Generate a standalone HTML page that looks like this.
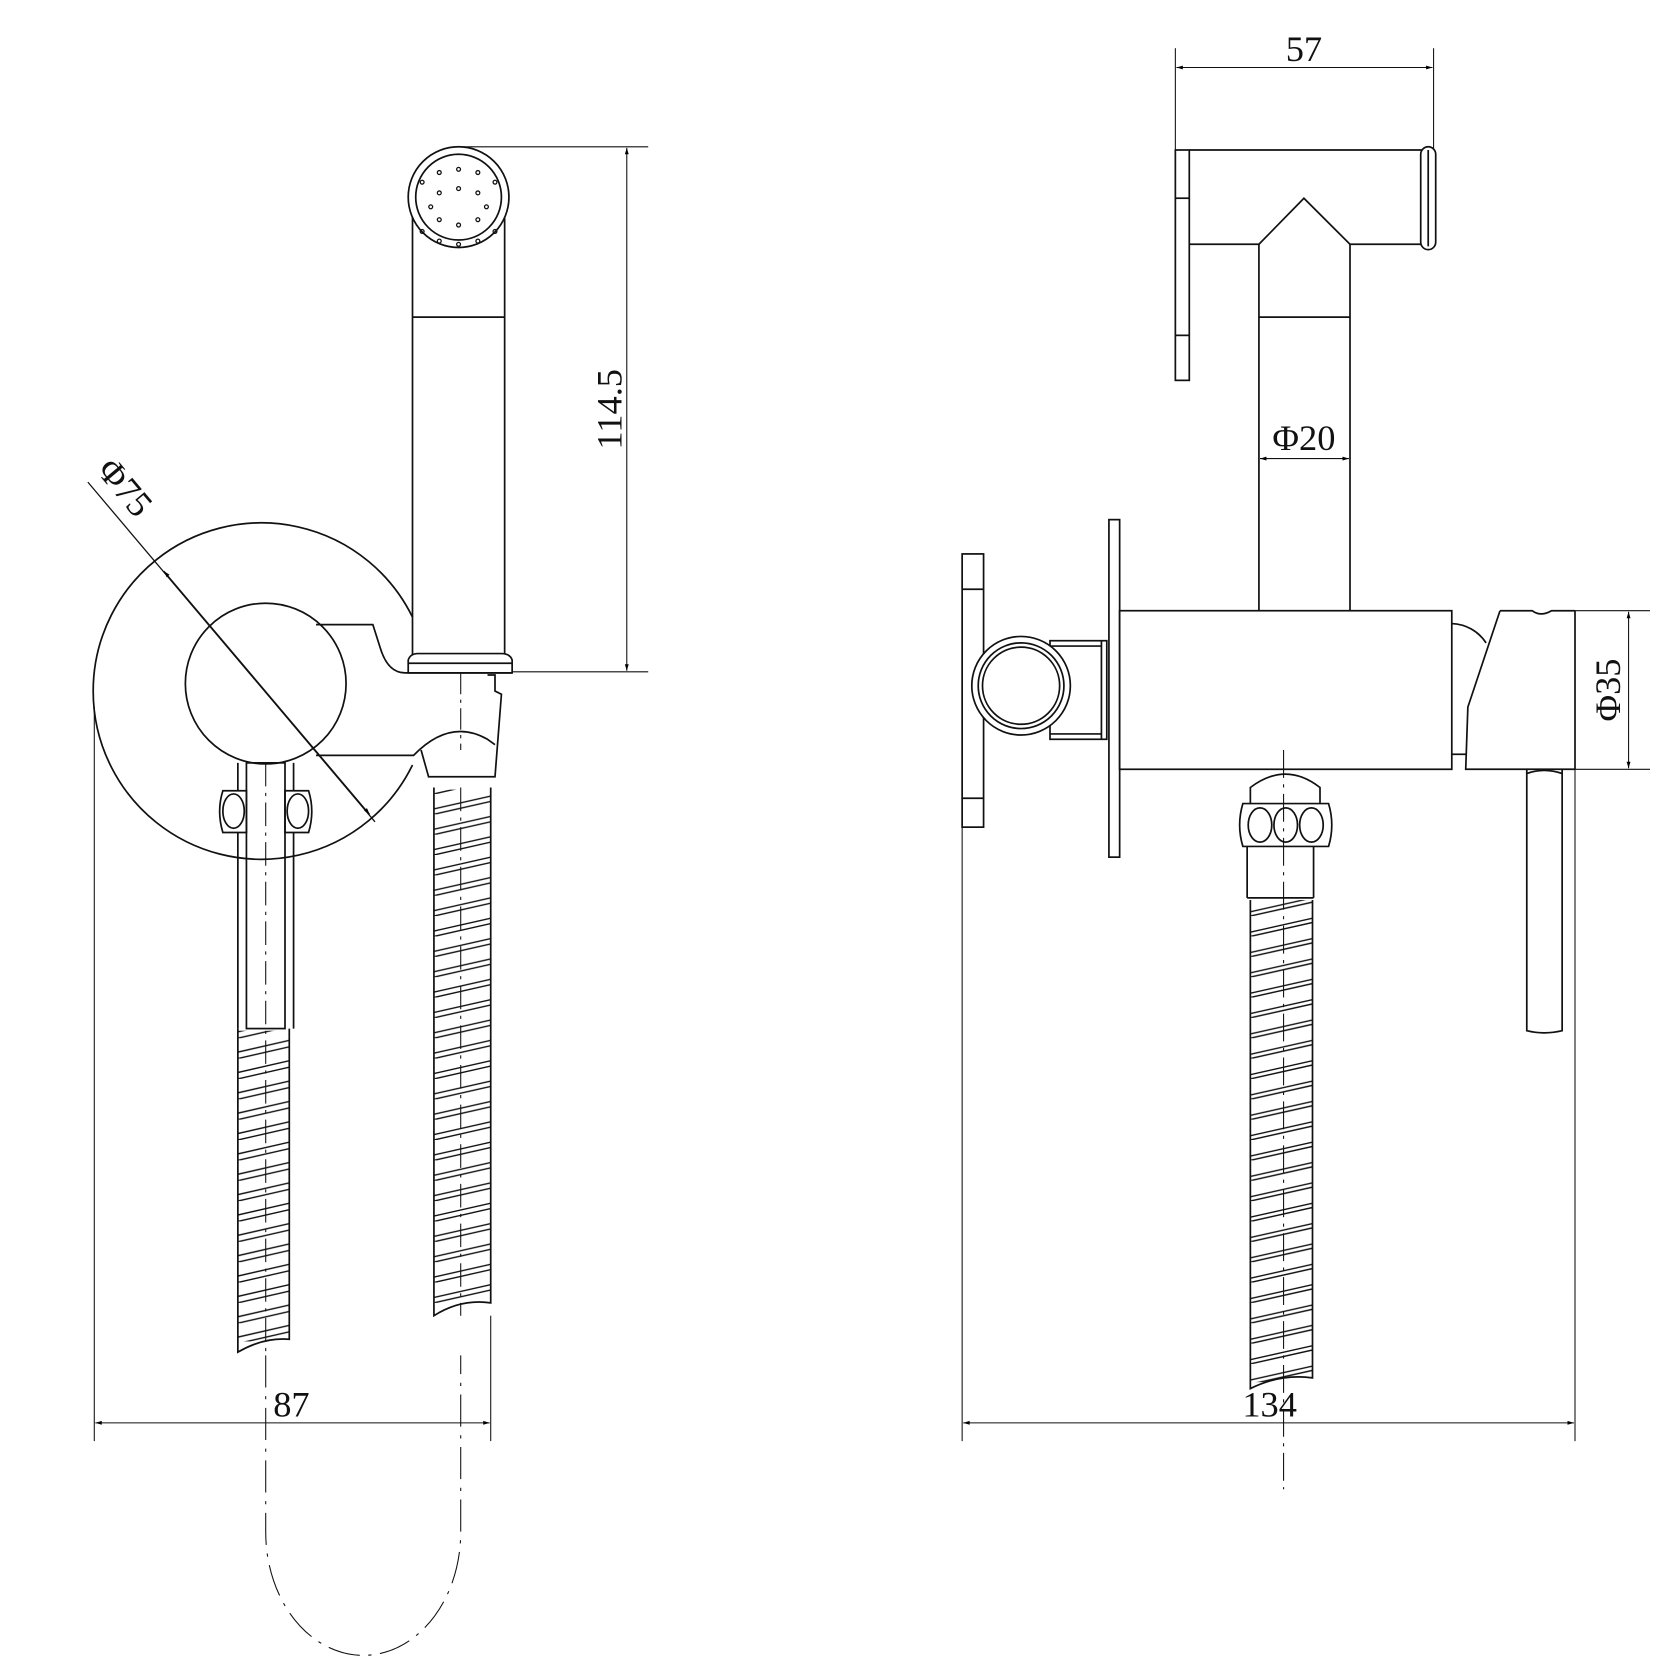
<!DOCTYPE html>
<html><head><meta charset="utf-8"><style>html,body{margin:0;padding:0;background:#fff}svg{display:block}</style></head>
<body>
<svg width="1680" height="1680" viewBox="0 0 1568 1568" xmlns="http://www.w3.org/2000/svg" font-family="Liberation Serif, serif">
<defs>
<pattern id="h1" patternUnits="userSpaceOnUse" x="222" y="0" width="48" height="19"><path d="M0 13 L48 2 M0 19 L48 8 M0 0 L0 0" stroke="#111" stroke-width="1.3" fill="none"/></pattern>
<pattern id="h2" patternUnits="userSpaceOnUse" x="405" y="0" width="53" height="19"><path d="M0 14 L53 2 M0 19 L53 7" stroke="#111" stroke-width="1.3" fill="none"/></pattern>
<pattern id="h3" patternUnits="userSpaceOnUse" x="1167" y="0" width="58" height="19"><path d="M0 15 L58 2 M0 19 L58 6" stroke="#111" stroke-width="1.3" fill="none"/></pattern>
<marker id="ar" viewBox="0 0 10 10" refX="10" refY="5" markerWidth="14" markerHeight="6" orient="auto-start-reverse" markerUnits="userSpaceOnUse"><path d="M0 2 L10 5 L0 8 Z" fill="#000"/></marker>
</defs>
<g fill="none" stroke="#111" stroke-width="1.6">

<!-- ===== LEFT VIEW ===== -->
<path d="M385 576 A157 157 0 1 0 385 714"/>
<circle cx="248" cy="638" r="75"/>
<line x1="82" y1="450" x2="350" y2="767" stroke-width="1.2"/>
<line x1="153" y1="533" x2="345" y2="760" marker-start="url(#ar)" marker-end="url(#ar)" stroke-width="1"/>
<path d="M295 583 L348 583 L355 605 Q362 628 378 628 L478 628"/>
<path d="M295 705 L386 705 Q420 670 455 690 L462 695"/>
<path d="M455 630 L462 630 L462 645 L468 648 L462 725 L400 725 L393 700"/>
<line x1="430" y1="628" x2="430" y2="700" stroke-dasharray="20 5 3 5" stroke-width="1"/>
<rect x="385" y="200" width="86" height="412"/>
<line x1="385" y1="296" x2="471" y2="296"/>
<circle cx="428" cy="184" r="47" fill="#fff"/>
<circle cx="428" cy="184" r="40"/>
<path d="M381 628 L381 616 Q383 610 390 610 L468 610 Q476 610 478 616 L478 628 Z" fill="#fff"/>
<line x1="381" y1="619" x2="478" y2="619"/>
<g stroke-width="1.2">
<circle cx="428" cy="158" r="1.8"/><circle cx="446" cy="161" r="1.8"/><circle cx="410" cy="161" r="1.8"/>
<circle cx="462" cy="170" r="1.8"/><circle cx="394" cy="170" r="1.8"/>
<circle cx="428" cy="176" r="1.8"/><circle cx="446" cy="180" r="1.8"/><circle cx="410" cy="180" r="1.8"/>
<circle cx="402" cy="193" r="1.8"/><circle cx="454" cy="193" r="1.8"/>
<circle cx="410" cy="205" r="1.8"/><circle cx="446" cy="205" r="1.8"/><circle cx="428" cy="210" r="1.8"/>
<circle cx="394" cy="216" r="1.8"/><circle cx="462" cy="216" r="1.8"/>
<circle cx="410" cy="225" r="1.8"/><circle cx="446" cy="225" r="1.8"/><circle cx="428" cy="228" r="1.8"/>
</g>
<line x1="430" y1="137" x2="605" y2="137" stroke-width="1"/>
<line x1="478" y1="627" x2="605" y2="627" stroke-width="1"/>
<line x1="585" y1="138" x2="585" y2="626" marker-start="url(#ar)" marker-end="url(#ar)" stroke-width="1"/>
<!-- left pipe + nut -->
<rect x="230" y="712" width="36" height="248"/>
<line x1="222" y1="712" x2="222" y2="738"/><line x1="274" y1="712" x2="274" y2="738"/>
<path d="M208 738 L230 738 L230 777 L208 777 Q202 757 208 738 Z"/>
<path d="M288 738 L266 738 L266 777 L288 777 Q294 757 288 738 Z"/>
<ellipse cx="218" cy="757" rx="10" ry="16"/><ellipse cx="278" cy="757" rx="10" ry="16"/>
<line x1="222" y1="777" x2="222" y2="960"/><line x1="274" y1="777" x2="274" y2="960"/>
<rect x="222" y="962" width="48" height="290" fill="url(#h1)" stroke="none"/>
<path d="M222 960 L222 1262 Q246 1248 270 1250 L270 960"/>
<line x1="248" y1="712" x2="248" y2="1262" stroke-dasharray="22 6 3 6" stroke-width="1"/>
<!-- right hose -->
<rect x="405" y="737" width="53" height="480" fill="url(#h2)" stroke="none"/>
<path d="M405 735 L405 1228 Q430 1212 458 1216 L458 735"/>
<line x1="430" y1="735" x2="430" y2="1228" stroke-dasharray="22 6 3 6" stroke-width="1"/>
<path d="M248 1265 L248 1430 A91 115 0 0 0 430 1430 L430 1265" stroke-dasharray="30 8 3 8" stroke-width="1"/>
<line x1="88" y1="660" x2="88" y2="1345" stroke-width="1"/>
<line x1="458" y1="1228" x2="458" y2="1345" stroke-width="1"/>
<line x1="89" y1="1328" x2="457" y2="1328" marker-start="url(#ar)" marker-end="url(#ar)" stroke-width="1"/>

<!-- ===== RIGHT VIEW ===== -->
<line x1="1097" y1="45" x2="1097" y2="140" stroke-width="1"/>
<line x1="1338" y1="45" x2="1338" y2="140" stroke-width="1"/>
<line x1="1098" y1="63" x2="1337" y2="63" marker-start="url(#ar)" marker-end="url(#ar)" stroke-width="1"/>
<rect x="1097" y="140" width="13" height="215"/>
<line x1="1097" y1="185" x2="1110" y2="185"/><line x1="1097" y1="313" x2="1110" y2="313"/>
<path d="M1110 140 L1330 140 M1110 228 L1175 228 L1217 185 L1260 228 L1330 228"/>
<rect x="1326" y="137" width="14" height="96" rx="7" fill="#fff"/>
<line x1="1333" y1="140" x2="1333" y2="230"/>
<line x1="1175" y1="228" x2="1175" y2="570"/><line x1="1260" y1="228" x2="1260" y2="570"/>
<line x1="1175" y1="296" x2="1260" y2="296"/>
<line x1="1176" y1="428" x2="1259" y2="428" marker-start="url(#ar)" marker-end="url(#ar)" stroke-width="1"/>
<rect x="1045" y="570" width="310" height="148"/>
<rect x="1035" y="485" width="10" height="315"/>
<!-- left handle -->
<rect x="898" y="517" width="20" height="255"/>
<line x1="898" y1="550" x2="918" y2="550"/><line x1="898" y1="745" x2="918" y2="745"/>
<rect x="980" y="598" width="53" height="92"/>
<line x1="980" y1="603" x2="1028" y2="603"/><line x1="980" y1="685" x2="1028" y2="685"/>
<line x1="1028" y1="598" x2="1028" y2="690"/>
<circle cx="953" cy="640" r="46" fill="#fff"/>
<circle cx="953" cy="640" r="40"/>
<circle cx="953" cy="640" r="36"/>
<!-- right handle -->
<path d="M1355 582 A40 40 0 0 1 1387 600"/>
<path d="M1355 704 L1368 704"/>
<path d="M1400 570 L1430 570 Q1438 576 1448 570 L1470 570 M1400 570 L1370 660 L1368 718 L1470 718"/>
<line x1="1470" y1="570" x2="1470" y2="718"/>
<path d="M1425 718 L1425 962 Q1441 966 1458 962 L1458 718 M1425 722 Q1441 716 1458 722"/>
<line x1="1470" y1="570" x2="1540" y2="570" stroke-width="1"/>
<line x1="1470" y1="718" x2="1540" y2="718" stroke-width="1"/>
<line x1="1520" y1="571" x2="1520" y2="717" marker-start="url(#ar)" marker-end="url(#ar)" stroke-width="1"/>
<!-- bottom nut -->
<path d="M1167 750 L1167 735 Q1200 710 1232 735 L1232 750"/>
<path d="M1160 750 L1240 750 Q1246 770 1240 790 L1160 790 Q1154 770 1160 750 Z"/>
<ellipse cx="1176" cy="770" rx="11" ry="16"/><ellipse cx="1200" cy="770" rx="11" ry="16"/><ellipse cx="1224" cy="770" rx="11" ry="16"/>
<path d="M1164 790 L1164 838 M1226 790 L1226 838 M1164 838 L1226 838"/>
<rect x="1167" y="840" width="58" height="450" fill="url(#h3)" stroke="none"/>
<path d="M1167 840 L1167 1296 Q1195 1282 1225 1286 L1225 840"/>
<line x1="1198" y1="700" x2="1198" y2="1390" stroke-dasharray="26 6 3 6" stroke-width="1"/>
<line x1="898" y1="772" x2="898" y2="1345" stroke-width="1"/>
<line x1="1470" y1="718" x2="1470" y2="1345" stroke-width="1"/>
<line x1="899" y1="1328" x2="1469" y2="1328" marker-start="url(#ar)" marker-end="url(#ar)" stroke-width="1"/>
</g>

<g fill="#111" font-size="34">
<text x="272" y="1322" text-anchor="middle">87</text>
<text x="1185" y="1322" text-anchor="middle">134</text>
<text x="1217" y="57" text-anchor="middle">57</text>
<text x="1217" y="420" text-anchor="middle">Φ20</text>
<text transform="translate(580,382) rotate(-90)" text-anchor="middle">114.5</text>
<text transform="translate(1512,644) rotate(-90)" text-anchor="middle">Φ35</text>
<text transform="translate(108,462) rotate(50)" text-anchor="middle">Φ75</text>
</g>
</svg>
</body></html>
